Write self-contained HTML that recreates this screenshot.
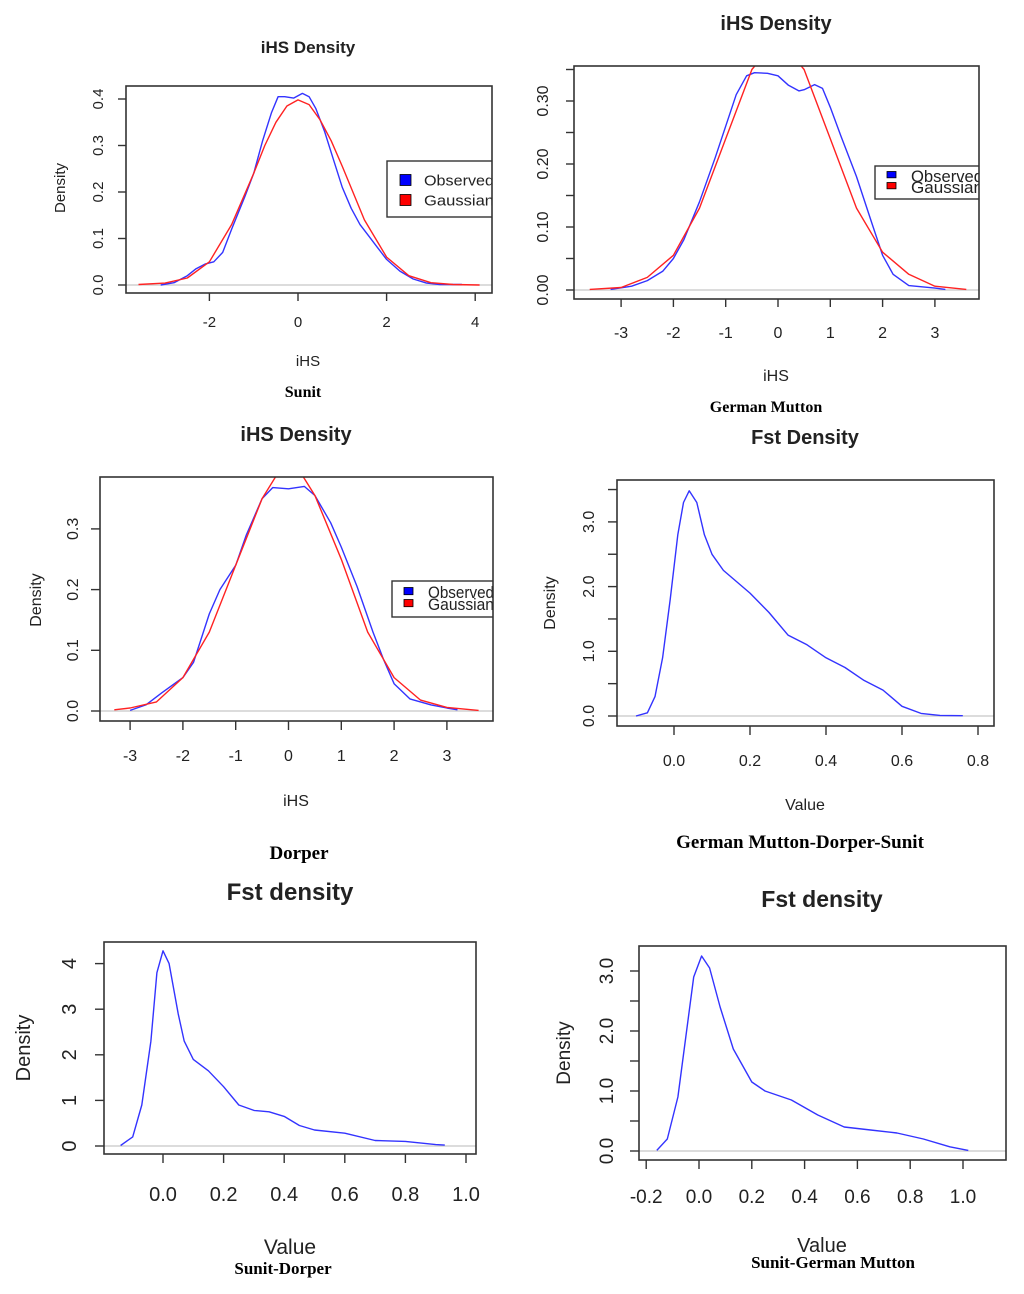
<!DOCTYPE html>
<html><head><meta charset="utf-8"><style>
html,body{margin:0;padding:0;background:#fff;}
svg{display:block;}
text{font-family:"Liberation Sans",sans-serif;fill:#222;}
.cap{font-family:"Liberation Serif",serif;font-weight:bold;fill:#000;}
</style></head><body>
<svg id="fig" width="1024" height="1294" viewBox="0 0 1024 1294" xmlns="http://www.w3.org/2000/svg"></svg>
<script>
// ---- data (x values and density values per curve) ----
const sunitObsX=[-3.1,-2.8,-2.5,-2.3,-2.1,-1.9,-1.7,-1.5,-1.2,-1.0,-0.8,-0.6,-0.45,-0.3,-0.1,0.1,0.25,0.4,0.6,0.8,1.0,1.2,1.4,1.6,1.8,2.0,2.3,2.6,2.9,3.2,3.7];
const sunitObsY=[0,0.005,0.02,0.035,0.045,0.05,0.07,0.12,0.19,0.24,0.31,0.37,0.405,0.405,0.402,0.412,0.405,0.38,0.33,0.27,0.21,0.165,0.13,0.105,0.08,0.055,0.03,0.013,0.004,0.001,0.001];
const sunitGauX=[-3.6,-3.0,-2.5,-2.0,-1.5,-1.0,-0.75,-0.5,-0.25,0,0.25,0.5,0.75,1.0,1.5,2.0,2.5,3.0,3.5,4.1];
const sunitGauY=[0.001,0.004,0.015,0.05,0.13,0.24,0.30,0.35,0.385,0.398,0.388,0.355,0.31,0.255,0.14,0.06,0.02,0.005,0.001,0];
const gmObsX=[-3.2,-2.8,-2.5,-2.2,-2.0,-1.8,-1.5,-1.2,-1.0,-0.8,-0.6,-0.45,-0.2,0,0.2,0.4,0.5,0.7,0.85,1.0,1.2,1.5,1.8,2.0,2.2,2.5,3.0,3.2];
const gmObsY=[0.001,0.006,0.015,0.03,0.05,0.08,0.14,0.21,0.26,0.31,0.34,0.345,0.344,0.34,0.325,0.316,0.318,0.326,0.32,0.29,0.245,0.18,0.105,0.055,0.025,0.007,0.003,0.001];
const gmGauX=[-3.6,-3.0,-2.5,-2.0,-1.5,-1.0,-0.5,0,0.5,1.0,1.5,2.0,2.5,3.0,3.6];
const gmGauY=[0.001,0.004,0.02,0.055,0.13,0.24,0.35,0.40,0.35,0.24,0.13,0.06,0.025,0.006,0.001];
const dorObsX=[-3.0,-2.7,-2.4,-2.0,-1.8,-1.5,-1.3,-1.0,-0.8,-0.5,-0.3,0,0.3,0.5,0.8,1.0,1.3,1.6,1.8,2.0,2.3,2.7,3.0,3.2];
const dorObsY=[0.001,0.01,0.03,0.055,0.08,0.16,0.2,0.24,0.29,0.35,0.368,0.366,0.37,0.355,0.31,0.27,0.205,0.13,0.085,0.045,0.02,0.01,0.005,0.002];
const dorGauX=[-3.3,-3.0,-2.5,-2.0,-1.5,-1.0,-0.5,-0.25,0,0.25,0.5,1.0,1.5,2.0,2.5,3.0,3.6];
const dorGauY=[0.002,0.005,0.015,0.055,0.13,0.24,0.35,0.385,0.40,0.39,0.355,0.25,0.13,0.055,0.018,0.006,0.001];
const fst3X=[-0.1,-0.07,-0.05,-0.03,-0.01,0.01,0.025,0.04,0.06,0.08,0.1,0.13,0.2,0.25,0.3,0.35,0.4,0.45,0.5,0.55,0.6,0.65,0.7,0.76];
const fst3Y=[0,0.05,0.3,0.9,1.8,2.8,3.3,3.48,3.3,2.8,2.5,2.25,1.9,1.6,1.25,1.1,0.9,0.75,0.55,0.4,0.15,0.04,0.01,0.005];
const sdX=[-0.14,-0.1,-0.07,-0.04,-0.02,0,0.02,0.05,0.07,0.1,0.15,0.2,0.25,0.3,0.35,0.4,0.45,0.5,0.6,0.7,0.8,0.9,0.93];
const sdY=[0.01,0.2,0.9,2.3,3.8,4.28,4.0,2.9,2.3,1.9,1.65,1.3,0.9,0.78,0.75,0.65,0.45,0.35,0.28,0.12,0.1,0.03,0.02];
const sgX=[-0.16,-0.12,-0.08,-0.05,-0.02,0.01,0.04,0.08,0.13,0.2,0.25,0.35,0.45,0.55,0.65,0.75,0.85,0.95,1.02];
const sgY=[0.01,0.2,0.9,1.9,2.9,3.25,3.05,2.4,1.7,1.15,1.0,0.85,0.6,0.4,0.35,0.3,0.2,0.07,0.01];
// tick values / labels
const ihs1XTicks=[-2,0,2,4];
const ihs1YTicks=[0,0.1,0.2,0.3,0.4];
const ihs1YLabels=["0.0","0.1","0.2","0.3","0.4"];
const ihs2XTicks=[-3,-2,-1,0,1,2,3];
const ihs2YTicks=[0,0.05,0.1,0.15,0.2,0.25,0.3,0.35];
const ihs2YLabels=["0.00","","0.10","","0.20","","0.30",""];
const ihs3XTicks=[-3,-2,-1,0,1,2,3];
const ihs3YTicks=[0,0.1,0.2,0.3];
const ihs3YLabels=["0.0","0.1","0.2","0.3"];
const f4XTicks=[0,0.2,0.4,0.6,0.8];
const f4XLabels=["0.0","0.2","0.4","0.6","0.8"];
const f4YTicks=[0,0.5,1,1.5,2,2.5,3,3.5];
const f4YLabels=["0.0","","1.0","","2.0","","3.0",""];
const f5XTicks=[0,0.2,0.4,0.6,0.8,1.0];
const f5XLabels=["0.0","0.2","0.4","0.6","0.8","1.0"];
const f5YTicks=[0,1,2,3,4];
const f5YLabels=["0","1","2","3","4"];
const f6XTicks=[-0.2,0,0.2,0.4,0.6,0.8,1.0];
const f6XLabels=["-0.2","0.0","0.2","0.4","0.6","0.8","1.0"];
const f6YTicks=[0,0.5,1,1.5,2,2.5,3];
const f6YLabels=["0.0","","1.0","","2.0","","3.0"];

const NS="http://www.w3.org/2000/svg";
const svg=document.getElementById('fig');
function mk(tag,attrs,parent,txt){const e=document.createElementNS(NS,tag);for(const k in attrs)e.setAttribute(k,attrs[k]);if(txt!==undefined)e.textContent=txt;(parent||svg).appendChild(e);return e;}

function panel(c,id){
  const g=mk('g',{},svg);
  
  
  const sx=v=>c.xa[1]+(v-c.xa[0])*c.kx;
  const sy=v=>c.ya[1]-(v-c.ya[0])*c.ky;
  const cp=mk('clipPath',{id:'clip'+id},g);
  mk('rect',{x:c.L,y:c.T,width:c.R-c.L,height:c.B-c.T},cp);
  const z=mk('line',{x1:c.L,x2:c.R,y1:sy(0),y2:sy(0),stroke:'#c8c8c8','stroke-width':1.3},g);
  
  
  c.series.forEach(s=>{
    const pts=s.x.map((xv,i)=>sx(xv).toFixed(1)+','+sy(s.y[i]).toFixed(1)).join(' ');
    const p=mk('polyline',{points:pts,fill:'none',stroke:s.col,'stroke-width':1.4,'stroke-linejoin':'round','clip-path':'url(#clip'+id+')'},g);
    
    
  });
  if(c.leg){
    const l=c.leg;
    const lg=mk('g',{'clip-path':'url(#clip'+id+')'},g);
    
    
    mk('rect',{x:l.x,y:l.y,width:c.R-l.x+4,height:l.h,fill:'#fff',stroke:'#333','stroke-width':1.4},lg);
    [['Observed','#0000ff'],['Gaussian','#ff0000']].forEach((e,i)=>{
      const yy=l.y+l.r0+i*l.dy;
      mk('rect',{x:l.x+l.sx,y:yy-l.sq/2,width:l.sq,height:l.sq*l.sqh,fill:e[1],stroke:'#000','stroke-width':0.8},lg);
      const t=mk('text',{x:l.x+l.tx,y:yy+l.fs*0.36,'font-size':l.fs,textLength:l.tlen,lengthAdjust:'spacingAndGlyphs'},lg,l.labels[i]);
      
      
    });
  }
  const bx=mk('rect',{x:c.L,y:c.T,width:c.R-c.L,height:c.B-c.T,fill:'none',stroke:'#333','stroke-width':1.6},g);
  
  
  c.xt.forEach((v,i)=>{
    mk('line',{x1:sx(v),x2:sx(v),y1:c.B,y2:c.B+c.tl,stroke:'#333','stroke-width':1.4},g);
    const t=mk('text',{x:sx(v),y:c.xly,'text-anchor':'middle','font-size':c.fs},g,c.xl?c.xl[i]:String(v));
    
    
  });
  c.yt.forEach((v,i)=>{
    mk('line',{x1:c.L,x2:c.L-c.tl,y1:sy(v),y2:sy(v),stroke:'#333','stroke-width':1.4},g);
    if(c.yl[i]){
      const t=mk('text',{x:c.ylx,y:sy(v),'text-anchor':'middle','font-size':c.fs,transform:'rotate(-90 '+c.ylx+' '+sy(v)+')'},g,c.yl[i]);
      
      
    }
  });
  const ti=mk('text',{x:c.title[1],y:c.title[2],'text-anchor':'middle','font-size':c.title[3],'font-weight':'bold',fill:'#000'},g,c.title[0]);
  
  
  if(c.ytl){
    const yt=mk('text',{x:c.ytl[0],y:c.ytl[1],'text-anchor':'middle','font-size':c.ytl[2],transform:'rotate(-90 '+c.ytl[0]+' '+c.ytl[1]+')'},g,'Density');
    
    
  }
  const xt=mk('text',{x:c.xtl[1],y:c.xtl[2],'text-anchor':'middle','font-size':c.xtl[3]},g,c.xtl[0]);
  
  
  const cap=mk('text',{x:c.cap[1],y:c.cap[2],'text-anchor':'middle','font-size':c.cap[3],'class':'cap'},g,c.cap[0]);
  
  
}

panel({L:126,T:86,R:492,B:293,xa:[0,298],kx:44.3,ya:[0,285],ky:465,tl:8,fs:15,
  xt:ihs1XTicks,xly:327,yt:ihs1YTicks,yl:ihs1YLabels,ylx:103,
  series:[{x:sunitObsX,y:sunitObsY,col:'#3333ff',name:'observed-curve'},{x:sunitGauX,y:sunitGauY,col:'#ff2222',name:'gaussian-curve'}],
  title:['iHS Density',308,53,17],ytl:[65,188,15],xtl:['iHS',308,366,15],cap:['Sunit',303,397,16],
  leg:{x:387,y:161,h:56,r0:19,dy:20,sx:13,sq:11,sqh:1,tx:37,fs:15,tlen:70,labels:['Observed','Gaussian']}},'sunit');

panel({L:574,T:66,R:979,B:299,xa:[0,778],kx:52.3,ya:[0,290],ky:630,tl:8,fs:16,
  xt:ihs2XTicks,xly:338,yt:ihs2YTicks,yl:ihs2YLabels,ylx:548,
  series:[{x:gmObsX,y:gmObsY,col:'#3333ff',name:'observed-curve'},{x:gmGauX,y:gmGauY,col:'#ff2222',name:'gaussian-curve'}],
  title:['iHS Density',776,30,20],ytl:null,xtl:['iHS',776,381,16],cap:['German Mutton',766,412,16],
  leg:{x:875,y:166,h:33,r0:10,dy:11,sx:12,sq:9,sqh:0.7,tx:36,fs:17,tlen:72,labels:['Observed','Gaussian']}},'german-mutton');

panel({L:100,T:477,R:493,B:721,xa:[0,288.5],kx:52.8,ya:[0,711],ky:607,tl:9,fs:16,
  xt:ihs3XTicks,xly:761,yt:ihs3YTicks,yl:ihs3YLabels,ylx:78,
  series:[{x:dorObsX,y:dorObsY,col:'#3333ff',name:'observed-curve'},{x:dorGauX,y:dorGauY,col:'#ff2222',name:'gaussian-curve'}],
  title:['iHS Density',296,441,20],ytl:[41,600,16],xtl:['iHS',296,806,16],cap:['Dorper',299,859,19],
  leg:{x:392,y:581,h:36,r0:11,dy:12,sx:12,sq:9,sqh:0.8,tx:36,fs:17,tlen:66,labels:['Observed','Gaussian']}},'dorper');

panel({L:617,T:480,R:994,B:726,xa:[0,674],kx:380,ya:[0,716],ky:64.7,tl:9,fs:16,
  xt:f4XTicks,xl:f4XLabels,xly:766,yt:f4YTicks,yl:f4YLabels,ylx:594,
  series:[{x:fst3X,y:fst3Y,col:'#3333ff',name:'fst-density-curve'}],
  title:['Fst Density',805,444,20],ytl:[555,603,16],xtl:['Value',805,810,16],cap:['German Mutton-Dorper-Sunit',800,848,19]},'fst-gm-dorper-sunit');

panel({L:104,T:942,R:476,B:1154,xa:[0,163],kx:303,ya:[0,1146],ky:45.6,tl:9,fs:20,
  xt:f5XTicks,xl:f5XLabels,xly:1201,yt:f5YTicks,yl:f5YLabels,ylx:76,
  series:[{x:sdX,y:sdY,col:'#3333ff',name:'fst-density-curve'}],
  title:['Fst density',290,900,24],ytl:[30,1048,20],xtl:['Value',290,1254,21],cap:['Sunit-Dorper',283,1274,17]},'fst-sunit-dorper');

panel({L:639,T:946,R:1006,B:1160,xa:[0,699],kx:264,ya:[0,1151],ky:60,tl:9,fs:19,
  xt:f6XTicks,xl:f6XLabels,xly:1203,yt:f6YTicks,yl:f6YLabels,ylx:613,
  series:[{x:sgX,y:sgY,col:'#3333ff',name:'fst-density-curve'}],
  title:['Fst density',822,907,23],ytl:[570,1053,19],xtl:['Value',822,1252,20],cap:['Sunit-German Mutton',833,1268,17]},'fst-sunit-german-mutton');
</script>
</body></html>
